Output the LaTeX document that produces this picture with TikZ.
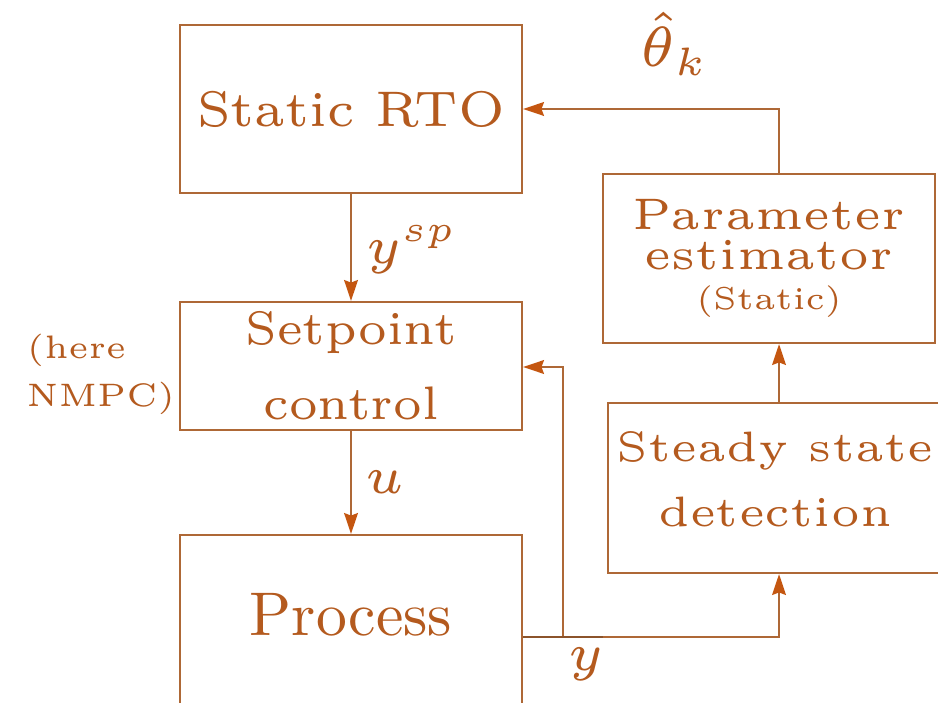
\documentclass[tikz,border=0pt]{standalone}
\usepackage{fix-cm}
\usepackage{graphicx}
\usetikzlibrary{arrows.meta}
\definecolor{edgebrown}{RGB}{174,104,54}
\definecolor{inkbrown}{RGB}{180,90,30}
\definecolor{tipbrown}{RGB}{196,86,16}
\tikzset{
  box/.style={draw=edgebrown, line width=0.26pt, inner sep=0pt, align=center, text=inkbrown},
  wire/.style={draw=edgebrown, line width=0.26pt},
  arr/.style={wire, -{Stealth[length=2.5pt,width=1.65pt,inset=0.3pt,color=tipbrown]}},
  lbl/.style={text=inkbrown, inner sep=0pt},
}
\begin{document}
\begin{tikzpicture}[x=0.12pt,y=-0.12pt]
\useasboundingbox (0,0) rectangle (938,702);
\clip (0,0) rectangle (938,702);

% blocks
\node[box, minimum width=41.04pt, minimum height=20.16pt, font=\fontsize{6.0}{7}\selectfont]
  (rto) at (351,109) {Static RTO};
\node[box, minimum width=41.04pt, minimum height=15.36pt, font=\fontsize{5.64}{9}\selectfont]
  (spc) at (351,366) {Setpoint\\control};
\node[box, minimum width=41.04pt, minimum height=32.4pt, font=\fontsize{10}{12}\selectfont,
      text height=4pt, text depth=12.4pt]
  (proc) at (351,670) {\scalebox{0.74}{Process}};
\node[box, minimum width=39.84pt, minimum height=20.28pt, font=\fontsize{5.3}{4.8}\selectfont]
  (pe) at (769,258.5) {Parameter\\estimator\\{\fontsize{3.8}{4.8}\selectfont (Static)}};
\node[box, minimum width=40.08pt, minimum height=20.4pt] (ssd) at (775,488) {};
\node[lbl, align=center, font=\fontsize{5.1}{7.8}\selectfont]
  (ssdtext) at (775,479) {Steady state\\detection};

% side note
\node[lbl, anchor=west, align=left, font=\fontsize{3.9}{5.76}\selectfont]
  (note) at (25,374) {(here\\NMPC)};

% routing points
\coordinate (col) at (779,0);
\coordinate (tap) at (563,637);

% connectors
\draw[arr] (rto.south) -- (spc.north);
\draw[arr] (spc.south) -- (proc.north);
\draw[arr] (ssd.north -| col) -- (pe.south -| col);
\draw[arr] (pe.north -| col) |- (rto.east);
\draw[wire] (proc.east |- tap) -- (tap);
\draw[arr] (tap) -| (ssd.south -| col);
\draw[arr] (tap) |- (spc.east |- 0,367);
\draw[draw=edgebrown!80!black, line width=0.34pt] (proc.east |- tap) -- ++(80,0);

% signal labels
\node[lbl, font=\fontsize{6.8}{8}\selectfont] (theta) at (675,44) {$\hat{\theta}_k$};
\node[lbl, font=\fontsize{6.3}{7}\selectfont] (ysp) at (412,250) {$y^{sp}$};
\node[lbl, font=\fontsize{6.3}{7}\selectfont] (uu) at (385,482) {$u$};
\node[lbl, font=\fontsize{6.3}{7}\selectfont] (yy) at (586,664) {$y$};
\end{tikzpicture}
\end{document}
